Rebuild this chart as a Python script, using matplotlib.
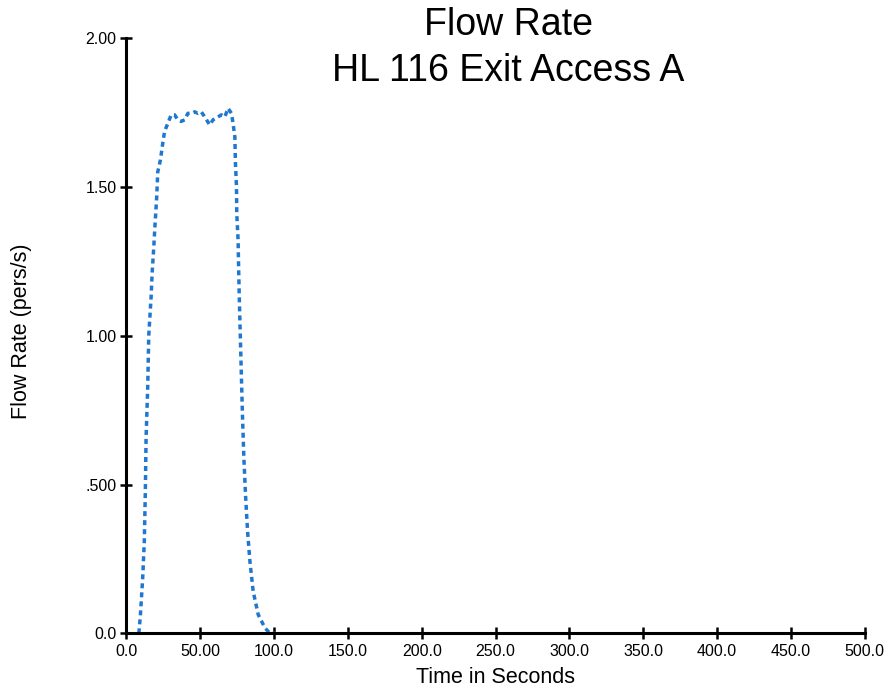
import matplotlib
matplotlib.use("Agg")
import matplotlib.pyplot as plt
from matplotlib.ticker import FixedLocator, FixedFormatter

# ---- data ----
time_s = [8.5, 9.5, 11.1, 12.2, 12.9, 13.4, 14.5, 15.2, 16.8, 17.5, 18.6, 19.5,
          20.6, 21.3, 23.1, 24.5, 25.9, 28.1, 30.4, 32.7, 34.9, 37.2, 39.5, 41.7,
          44.0, 46.3, 48.5, 50.8, 53.1, 56.5, 58.7, 62.1, 64.4, 66.7, 68.9, 71.2,
          72.3, 73.5, 73.9, 74.6, 74.8, 75.7, 76.0, 76.4, 76.8, 77.3, 78.0, 78.7,
          79.6, 80.7, 82.1, 83.7, 85.9, 89.3, 93.9, 97.3, 101.0]
flow = [0.0, 0.057, 0.186, 0.31, 0.478, 0.657, 0.826, 1.0, 1.13, 1.21, 1.297, 1.377,
        1.466, 1.55, 1.59, 1.64, 1.686, 1.713, 1.742, 1.742, 1.725, 1.72, 1.725, 1.747,
        1.747, 1.752, 1.747, 1.752, 1.735, 1.708, 1.725, 1.735, 1.742, 1.735, 1.764, 1.747,
        1.713, 1.668, 1.58, 1.5, 1.41, 1.32, 1.24, 1.15, 1.07, 0.98, 0.85, 0.725,
        0.59, 0.467, 0.343, 0.242, 0.141, 0.063, 0.018, 0.0, 0.0]

x_ticks = [0, 50, 100, 150, 200, 250, 300, 350, 400, 450, 500]
x_tick_labels = ["0.0", "50.00", "100.0", "150.0", "200.0", "250.0", "300.0",
                 "350.0", "400.0", "450.0", "500.0"]
y_ticks = [0.0, 0.5, 1.0, 1.5, 2.0]
y_tick_labels = ["0.0", ".500", "1.00", "1.50", "2.00"]

title_lines = ["Flow Rate", "HL 116 Exit Access A"]
x_label = "Time in Seconds"
y_label = "Flow Rate (pers/s)"

# ---- figure ----
plt.rcParams['font.family'] = ['Liberation Sans', 'DejaVu Sans']
plt.rcParams['lines.scale_dashes'] = False

fig = plt.figure(figsize=(8.9, 6.89), dpi=100)
ax = fig.add_axes([0.1419, 0.0808, 0.8298, 0.864])

ax.plot(time_s, flow, color='#1f77d0', linewidth=2.5, dashes=(3.6, 2.9),
        solid_capstyle='butt', dash_capstyle='butt')

ax.set_xlim(0, 500)
ax.set_ylim(0, 2.0)
ax.xaxis.set_major_locator(FixedLocator(x_ticks))
ax.xaxis.set_major_formatter(FixedFormatter(x_tick_labels))
ax.yaxis.set_major_locator(FixedLocator(y_ticks))
ax.yaxis.set_major_formatter(FixedFormatter(y_tick_labels))

for s in ['top', 'right']:
    ax.spines[s].set_visible(False)
for s in ['left', 'bottom']:
    ax.spines[s].set_linewidth(2.2)
    ax.spines[s].set_color('black')
    ax.spines[s].set_clip_on(False)

ax.tick_params(axis='both', direction='inout', length=8, width=1.8,
               labelsize=11.5, colors='black')
ax.tick_params(axis='x', pad=4)
ax.tick_params(axis='y', pad=3)

ax.set_xlabel(x_label, fontsize=15.5)
ax.set_ylabel(y_label, fontsize=15.5)
ax.xaxis.set_label_coords(0.5, -0.056)
ax.yaxis.set_label_coords(-0.128, 0.507)

fig.text(0.571, 0.963, title_lines[0], ha='center', va='center', fontsize=27)
fig.text(0.571, 0.897, title_lines[1], ha='center', va='center', fontsize=27)

fig.savefig("out.png", dpi=100)
